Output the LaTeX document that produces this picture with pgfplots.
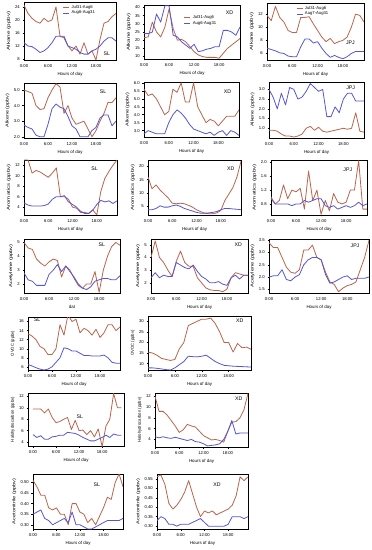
\documentclass[border=0pt]{standalone}
\usepackage{fontspec}
\setmainfont{Liberation Sans}
\usepackage{graphicx}
\usepackage{pgfplots}
\usepackage{pgfplotstable}
\pgfplotsset{compat=1.18}
\definecolor{cA}{RGB}{185,100,75}
\definecolor{cB}{RGB}{85,85,215}
\newcommand\tickfont{\fontsize{4.2}{5}\selectfont}
\newcommand\labfont{\fontsize{4.4}{5}\selectfont}
\newcommand\ylabfont{\fontsize{4.2}{4.5}\selectfont}
\newcommand\sitefont{\fontsize{5.2}{6}\selectfont}
\newcommand\legfont{\fontsize{4.2}{5}\selectfont}
\newcommand\yl[2]{\scalebox{#1}[1]{#2}}
\tikzset{site/.style={font=\sitefont}}
\pgfplotsset{
  panel/.style={scale only axis, anchor=south west, xmin=0, xmax=23,
    xtick={0,6,12,18}, xticklabels={0:00,6:00,12:00,18:00},
    tick align=outside, major tick length=1.5pt, tick pos=left,
    tick style={line width=0.4pt,black},
    every tick label/.style={font=\tickfont},
    /pgf/number format/assume math mode=true,
    xlabel={Hours of day}, xlabel style={font=\labfont, yshift=1.8pt},
    ylabel style={font=\ylabfont, yshift=-2.5pt},
    xticklabel style={yshift=0.8pt}, yticklabel style={xshift=0.8pt},
    axis line style={line width=0.5pt},
    every axis plot/.append style={line width=0.8pt, mark=none, line join=round},
    clip=true},
  fz1/.style={yticklabel style={/pgf/number format/.cd, fixed, fixed zerofill, precision=1}},
  fz2/.style={yticklabel style={/pgf/number format/.cd, fixed, fixed zerofill, precision=2}},
  leg/.style={legend style={draw=none, fill=none, font=\legfont, inner sep=0.5pt, row sep=-2.5pt, cells={anchor=west}},
    legend image code/.code={\draw[##1] (0pt,0pt) -- (6pt,0pt);}}
}
% ---------------- data: h a(Jul31-Aug6) b(Aug6/7-Aug31)
\pgfplotstableread{
h a b
0 24.5 13
1 22 12
2 20.5 11.8
3 19.5 11
4 19 10
5 20.5 10.5
6 19.5 11.5
7 20 13
8 24 15
9 15 15
10 14.5 15
11 12 12
12 10.5 11.5
13 12 11
14 9.5 10
15 13 9.5
16 9.5 9.5
17 10.5 10.5
18 7.7 11
19 14 12
20 19 13.5
21 19.5 14.5
22 21 14.5
23 22 13.5
}\tAlkSL
\pgfplotstableread{
h a b
0 21.5 24
1 22 24
2 31 25
3 25 36
4 22 31
5 28 41
6 39 41
7 27 23
8 20 22
9 20.5 19
10 19 17
11 16 15
12 13 17.5
13 11 13
14 10 13.5
15 9.5 14.5
16 9.5 15
17 9.5 16
18 9 16
19 12 26
20 15 26
21 17 25
22 19 23
23 21 28
}\tAlkXD
\pgfplotstableread{
h a b
0 11.8 6.8
1 11 6.6
2 13.2 6.4
3 11.5 6.1
4 10.8 6
5 9.5 5.6
6 9.2 5.5
7 9.2 5.5
8 11.5 7
9 11.5 8.2
10 11.6 8.2
11 10.5 7.6
12 9.5 7.8
13 8.5 6.8
14 7.8 6
15 8.3 5.4
16 7.5 5.7
17 7.8 5.4
18 8 5.2
19 8.5 5.5
20 10 6
21 12 6.3
22 11.8 6.3
23 10.8 6.3
}\tAlkJPJ
\pgfplotstableread{
h a b
0 5.0 2.75
1 4.9 2.6
2 4.8 2.5
3 4.0 2.1
4 3.75 2.0
5 3.8 2.0
6 4.5 2.8
7 5.0 3.8
8 5.4 4.1
9 5.2 3.9
10 3.5 3.8
11 4.0 3.3
12 3.2 2.7
13 2.8 2.5
14 2.9 2.0
15 3.0 2.0
16 2.5 2.0
17 2.0 2.4
18 2.4 2.6
19 3.0 3.2
20 3.5 3.4
21 4.2 3.4
22 4.2 2.7
23 4.5 3.0
}\tAleSL
\pgfplotstableread{
h a b
0 5.6 2.8
1 5.2 3.0
2 5.3 2.9
3 5.0 2.8
4 4.5 2.8
5 4.0 2.8
6 4.2 3.5
7 5.6 4.0
8 5.4 4.3
9 6.0 4.1
10 4.8 3.8
11 4.8 3.4
12 6.0 3.1
13 4.5 3.0
14 4.0 2.9
15 3.5 2.8
16 3.7 2.9
17 3.6 2.7
18 3.3 2.9
19 3.6 3.0
20 3.9 2.7
21 3.9 3.0
22 3.9 2.9
23 4.3 2.7
}\tAleXD
\pgfplotstableread{
h a b
0 0.9 3.0
1 0.9 2.6
2 0.85 2.0
3 0.7 2.8
4 0.6 2.2
5 0.6 3.1
6 0.55 3.0
7 0.6 2.5
8 0.7 2.6
9 1.0 2.9
10 1.1 3.3
11 0.9 3.1
12 1.05 2.9
13 0.85 3.0
14 0.8 1.6
15 0.85 1.6
16 0.9 2.1
17 0.95 1.8
18 1.0 2.5
19 0.95 2.8
20 1.0 2.8
21 1.8 2.4
22 0.85 2.4
23 0.8 2.4
}\tAleJPJ
\pgfplotstableread{
h a b
0 13 4.8
1 13 4.4
2 10.5 4.2
3 11 4.2
4 10.7 4.2
5 10.2 4.3
6 9.7 4.6
7 10.5 5.5
8 11.5 6
9 6 6
10 6 6.2
11 5.5 5
12 4 4.5
13 3.8 4
14 3 3.2
15 3 2.8
16 2.8 2.8
17 3.5 3.4
18 2.5 4.5
19 7 5.3
20 9.5 5
21 10.8 5.2
22 12 4.7
23 13 5.2
}\tAroSL
\pgfplotstableread{
h a b
0 16 3.5
1 11.5 3.5
2 13 4
3 11 5
4 9.5 4.5
5 8 4.5
6 6 5
7 5.8 5.3
8 6 4.8
9 5.8 4
10 5.2 3.5
11 4.5 3
12 3.5 2.5
13 2.8 2.2
14 2.2 2.2
15 2 2.3
16 2 2.5
17 2.3 2.8
18 3.2 3.5
19 7 4
20 9.5 4
21 12 3.8
22 16 3.7
23 22 3.5
}\tAroXD
\pgfplotstableread{
h a b
0 1.0 0.95
1 0.8 0.8
2 0.9 0.8
3 1.35 0.8
4 0.95 0.8
5 1.2 0.75
6 1.15 0.8
7 1.25 0.8
8 0.65 0.9
9 1.75 0.85
10 0.9 0.9
11 1.2 0.95
12 0.5 0.95
13 0.9 0.75
14 0.6 0.7
15 1.1 0.75
16 0.85 0.65
17 0.8 0.7
18 0.85 0.75
19 1.2 0.7
20 1.2 0.75
21 2.05 0.85
22 0.65 0.75
23 0.65 0.8
}\tAroJPJ
\pgfplotstableread{
h a b
0 5.0 2.8
1 4.6 2.3
2 4.5 2.2
3 3.8 1.9
4 3.5 1.9
5 3.3 1.9
6 3.6 2.7
7 3.8 3.0
8 3.7 3.4
9 2.5 2.9
10 3.3 3.3
11 3.0 2.9
12 2.4 2.5
13 1.9 2.0
14 1.7 1.7
15 2.0 1.6
16 2.0 1.8
17 2.9 2.2
18 1.4 2.3
19 3.0 2.4
20 4.0 2.4
21 4.7 2.3
22 5.0 2.3
23 4.8 2.6
}\tAceSL
\pgfplotstableread{
h a b
0 4.0 2.4
1 5.3 2.8
2 4.0 2.4
3 3.6 2.6
4 3.0 2.5
5 2.5 2.5
6 3.7 3.6
7 4.5 3.4
8 3.6 3.2
9 3.3 3.1
10 3.3 3.4
11 2.4 2.9
12 2.0 2.5
13 1.6 2.3
14 1.45 2.0
15 1.4 2.0
16 1.4 2.1
17 1.3 1.9
18 1.5 1.8
19 2.4 2.4
20 2.8 2.6
21 2.7 2.3
22 2.6 2.6
23 2.6 2.6
}\tAceXD
\pgfplotstableread{
h a b
0 3.4 2.0
1 3.2 2.05
2 3.2 2.05
3 2.8 2.3
4 2.4 1.9
5 2.2 1.85
6 2.15 2.0
7 2.3 2.1
8 3.1 2.5
9 3.1 2.7
10 3.3 2.8
11 2.8 2.8
12 2.7 2.7
13 2.2 2.1
14 1.8 1.75
15 1.7 1.8
16 1.4 1.9
17 1.55 2.0
18 1.65 2.05
19 1.7 1.9
20 1.8 1.95
21 2.3 1.95
22 2.8 1.95
23 3.5 2.0
}\tAceJPJ
\pgfplotstableread{
h a b
0 13.3 6.5
1 12.8 6.2
2 12 5.8
3 10.5 5.5
4 10 5.3
5 8.7 5.5
6 8.7 6
7 10 7
8 15.3 8
9 13 10.2
10 17.5 10
11 16 9.5
12 16.5 9.5
13 13.5 9
14 14.5 8.5
15 14 8.5
16 13 8.4
17 14.3 8.4
18 12.5 8.4
19 13.5 8.6
20 15.3 8
21 15.3 7
22 14 6.8
23 14.8 6.8
}\tOvSL
\pgfplotstableread{
h a b
0 15.5 8
1 15 8
2 14 7.8
3 12.5 7.5
4 12 7.2
5 11.5 7
6 12 8
7 17 9.5
8 20 11
9 28 13.5
10 29 13.3
11 30 13.2
12 31 13.5
13 31 14
14 31.5 12.5
15 29 11
16 25 10
17 20 9.2
18 20 9
19 15.5 8.8
20 19.5 8.7
21 17.5 8.6
22 17.8 8.5
23 16.8 8.4
}\tOvXD
\pgfplotstableread{
h a b
0 9.8 5.3
1 9.8 4.8
2 9.8 5.1
3 9.1 4.5
4 9.8 4.5
5 8.3 4.9
6 7.4 5
7 7.6 5.2
8 8 5.2
9 8.3 5.7
10 6.2 5.6
11 7.8 5.5
12 6 5.2
13 6.1 4.8
14 5.3 4.5
15 6 4.2
16 4.9 4.2
17 6.3 4.5
18 3.2 4.8
19 6.8 5.2
20 8 4.8
21 12.5 5.4
22 10 5.2
23 10 5.2
}\tHaSL
\pgfplotstableread{
h a b
0 12 4.5
1 9.2 4.3
2 9.2 4.5
3 8.5 4.3
4 7.5 4.2
5 6.5 4.4
6 5.3 4.2
7 5.8 4
8 6.8 3.8
9 6.5 4
10 6.3 3.6
11 5.5 3.5
12 4.7 3.2
13 4.3 2.8
14 3.9 2.9
15 4 3
16 3.8 3.2
17 3.5 4
18 5.5 5.5
19 7.2 7.5
20 7.3 5
21 8 5.2
22 9.5 5.2
23 12.5 5.2
}\tHaXD
\pgfplotstableread{
h a b
0 0.51 0.35
1 0.48 0.36
2 0.44 0.37
3 0.44 0.33
4 0.38 0.32
5 0.37 0.30
6 0.38 0.31
7 0.35 0.32
8 0.35 0.33
9 0.30 0.31
10 0.40 0.36
11 0.40 0.30
12 0.36 0.30
13 0.35 0.29
14 0.31 0.28
15 0.33 0.28
16 0.30 0.29
17 0.34 0.30
18 0.38 0.31
19 0.43 0.32
20 0.42 0.32
21 0.50 0.32
22 0.54 0.32
23 0.48 0.33
}\tAnSL
\pgfplotstableread{
h a b
0 0.56 0.33
1 0.57 0.35
2 0.52 0.34
3 0.42 0.31
4 0.39 0.31
5 0.41 0.30
6 0.44 0.31
7 0.48 0.31
8 0.54 0.31
9 0.47 0.32
10 0.40 0.33
11 0.35 0.34
12 0.38 0.32
13 0.37 0.30
14 0.38 0.30
15 0.36 0.30
16 0.37 0.30
17 0.38 0.30
18 0.39 0.31
19 0.41 0.35
20 0.46 0.35
21 0.56 0.35
22 0.54 0.34
23 0.56 0.35
}\tAnXD
\begin{document}
\begin{tikzpicture}
\path[use as bounding box] (0,0) rectangle (372pt,550pt);
% ---------- Row 1: Alkane
\begin{axis}[panel, leg, at={(24pt,490pt)}, width=92pt, height=58pt,
  ymin=7.7, ymax=25.5, ytick={8,12,16,20,24}, ylabel={\yl{1.5}{Alkane (ppbv)}},
  legend style={at={(0.8,0.995)}, anchor=north east}]
\addplot[cA] table[x=h,y=a]{\tAlkSL}; \addlegendentry{Jul31-Aug6}
\addplot[cB] table[x=h,y=b]{\tAlkSL}; \addlegendentry{Aug6-Aug31}
\node[site] at (rel axis cs:0.9,0.1) {SL};
\end{axis}
\begin{axis}[panel, leg, at={(144pt,491pt)}, width=96pt, height=54pt,
  ymin=8.5, ymax=41.5, ytick={10,15,20,25,30,35,40}, ylabel={\yl{1.45}{Alkane (ppbv)}},
  legend style={at={(0.78,0.86)}, anchor=north east}]
\addplot[cA] table[x=h,y=a]{\tAlkXD}; \addlegendentry{Jul31-Aug6}
\addplot[cB] table[x=h,y=b]{\tAlkXD}; \addlegendentry{Aug6-Aug31}
\node[site] at (rel axis cs:0.89,0.85) {XD};
\end{axis}
\begin{axis}[panel, leg, at={(267pt,490pt)}, width=97pt, height=57pt,
  ymin=5, ymax=13.7, ytick={6,8,10,12}, ylabel={\yl{1.45}{Alkane (ppbv)}},
  legend style={at={(0.66,0.995)}, anchor=north east}]
\addplot[cA] table[x=h,y=a]{\tAlkJPJ}; \addlegendentry{Jul31-Aug6}
\addplot[cB] table[x=h,y=b]{\tAlkJPJ}; \addlegendentry{Aug7-Aug31}
\node[site] at (rel axis cs:0.86,0.3) {JPJ};
\end{axis}
% ---------- Row 2: Alkene
\begin{axis}[panel, fz1, at={(24pt,412pt)}, width=92pt, height=55pt,
  ymin=1.92, ymax=5.45, ytick={2,3,4,5}, ylabel={\yl{1.3}{Alkene (ppbv)}}]
\addplot[cA] table[x=h,y=a]{\tAleSL};
\addplot[cB] table[x=h,y=b]{\tAleSL};
\node[site] at (rel axis cs:0.86,0.85) {SL};
\end{axis}
\begin{axis}[panel, fz1, at={(144pt,413pt)}, width=95pt, height=55pt,
  ymin=2.6, ymax=6.05, ytick={3,3.5,4,4.5,5,5.5,6}, ylabel={\yl{1.3}{Alkene (ppbv)}}]
\addplot[cA] table[x=h,y=a]{\tAleXD};
\addplot[cB] table[x=h,y=b]{\tAleXD};
\node[site] at (rel axis cs:0.88,0.82) {XD};
\end{axis}
\begin{axis}[panel, fz1, at={(269pt,412pt)}, width=95pt, height=56pt,
  ymin=0.5, ymax=3.38, ytick={1,1.5,2,2.5,3}, ylabel={\yl{1.3}{Alkene (ppbv)}}]
\addplot[cA] table[x=h,y=a]{\tAleJPJ};
\addplot[cB] table[x=h,y=b]{\tAleJPJ};
\node[site] at (rel axis cs:0.86,0.9) {JPJ};
\end{axis}
% ---------- Row 3: Aromatics
\begin{axis}[panel, at={(24pt,335pt)}, width=93pt, height=55pt,
  ymin=2.5, ymax=13, ytick={4,6,8,10,12}, ylabel={\yl{1.45}{Aromatics (ppbv)}}]
\addplot[cA] table[x=h,y=a]{\tAroSL};
\addplot[cB] table[x=h,y=b]{\tAroSL};
\node[site] at (rel axis cs:0.76,0.85) {SL};
\end{axis}
\begin{axis}[panel, at={(148pt,335pt)}, width=93pt, height=55pt,
  ymin=1.5, ymax=22.5, ytick={5,10,15,20}, ylabel={\yl{1.45}{Aromatics (ppbv)}}]
\addplot[cA] table[x=h,y=a]{\tAroXD};
\addplot[cB] table[x=h,y=b]{\tAroXD};
\node[site] at (rel axis cs:0.89,0.85) {XD};
\end{axis}
\begin{axis}[panel, fz1, at={(271pt,335pt)}, width=96pt, height=55pt,
  ymin=0.48, ymax=2.07, ytick={0.8,1.2,1.6,2.0}, ylabel={\yl{1.45}{Aromatics (ppbv)}}]
\addplot[cA] table[x=h,y=a]{\tAroJPJ};
\addplot[cB] table[x=h,y=b]{\tAroJPJ};
\node[site] at (rel axis cs:0.8,0.82) {JPJ};
\end{axis}
% ---------- Row 4: Acetylene
\begin{axis}[panel, at={(24pt,257pt)}, width=96pt, height=54pt, xlabel={dat},
  ymin=1.35, ymax=5.25, ytick={2,3,4,5}, ylabel={\yl{1.38}{Acetylene (ppbv)}}]
\addplot[cA] table[x=h,y=a]{\tAceSL};
\addplot[cB] table[x=h,y=b]{\tAceSL};
\node[site] at (rel axis cs:0.81,0.9) {SL};
\end{axis}
\begin{axis}[panel, at={(151pt,257pt)}, width=97pt, height=54pt,
  ymin=1.2, ymax=5.45, ytick={2,3,4,5}, ylabel={\yl{1.38}{Acetylene (ppbv)}}]
\addplot[cA] table[x=h,y=a]{\tAceXD};
\addplot[cB] table[x=h,y=b]{\tAceXD};
\node[site] at (rel axis cs:0.9,0.9) {XD};
\end{axis}
\begin{axis}[panel, fz1, at={(269pt,257pt)}, width=100pt, height=54pt,
  ymin=1.35, ymax=3.55, ytick={1.5,2,2.5,3,3.5}, ylabel={\yl{1.38}{Acetylene (ppbv)}}]
\addplot[cA] table[x=h,y=a]{\tAceJPJ};
\addplot[cB] table[x=h,y=b]{\tAceJPJ};
\node[site] at (rel axis cs:0.86,0.88) {JPJ};
\end{axis}
% ---------- Row 5: OVOC
\begin{axis}[panel, at={(28pt,180pt)}, width=92pt, height=53pt,
  ymin=5.3, ymax=17, ytick={6,8,10,12,14,16}, ylabel={OVOC (ppbv)}]
\addplot[cA] table[x=h,y=a]{\tOvSL};
\addplot[cB] table[x=h,y=b]{\tOvSL};
\node[site] at (rel axis cs:0.1,0.94) {SL};
\end{axis}
\begin{axis}[panel, at={(148pt,180pt)}, width=103pt, height=54pt,
  ymin=7, ymax=32.5, ytick={10,15,20,25,30}, ylabel={OVOC (ppbv)}]
\addplot[cA] table[x=h,y=a]{\tOvXD};
\addplot[cB] table[x=h,y=b]{\tOvXD};
\node[site] at (rel axis cs:0.89,0.92) {XD};
\end{axis}
% ---------- Row 6: Halohydrocarbon
\begin{axis}[panel, at={(28pt,104pt)}, width=96pt, height=53pt, xmin=-1.3, xmax=23.7,
  ymin=3.3, ymax=12.6, ytick={4,6,8,10,12}, ylabel={Halohydrocarbon (ppbv)}]
\addplot[cA] table[x=h,y=a]{\tHaSL};
\addplot[cB] table[x=h,y=b]{\tHaSL};
\node[site] at (rel axis cs:0.54,0.55) {SL};
\end{axis}
\begin{axis}[panel, at={(155pt,103pt)}, width=93pt, height=54pt,
  ymin=2.6, ymax=12.6, ytick={4,6,8,10,12}, ylabel={Halohydrocarbon (ppbv)}]
\addplot[cA] table[x=h,y=a]{\tHaXD};
\addplot[cB] table[x=h,y=b]{\tHaXD};
\node[site] at (rel axis cs:0.9,0.89) {XD};
\end{axis}
% ---------- Row 7: Acetonitrile
\begin{axis}[panel, fz2, at={(33pt,21pt)}, width=90pt, height=55pt,
  ymin=0.28, ymax=0.54, ytick={0.3,0.35,0.4,0.45,0.5}, ylabel={\yl{1.33}{Acetonitrile (ppbv)}}]
\addplot[cA] table[x=h,y=a]{\tAnSL};
\addplot[cB] table[x=h,y=b]{\tAnSL};
\node[site] at (rel axis cs:0.71,0.8) {SL};
\end{axis}
\begin{axis}[panel, fz2, at={(157pt,21pt)}, width=91pt, height=55pt,
  ymin=0.285, ymax=0.575, ytick={0.3,0.35,0.4,0.45,0.5,0.55}, ylabel={\yl{1.33}{Acetonitrile (ppbv)}}]
\addplot[cA] table[x=h,y=a]{\tAnXD};
\addplot[cB] table[x=h,y=b]{\tAnXD};
\node[site] at (rel axis cs:0.66,0.8) {XD};
\end{axis}
\end{tikzpicture}
\end{document}
